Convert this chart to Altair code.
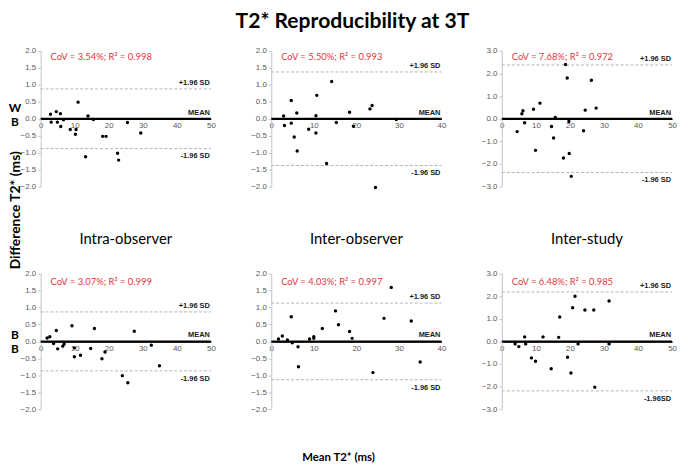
import altair as alt
import pandas as pd

W, H = 172, 137

# ---- tick labels ----
x_ticks_50 = [0, 10, 20, 30, 40, 50]
x_ticks_40 = [0, 10, 20, 30, 40]
y_ticks_2 = [-2.0, -1.5, -1.0, -0.5, 0.0, 0.5, 1.0, 1.5, 2.0]
y_ticks_3 = [-3.0, -2.0, -1.0, 0.0, 1.0, 2.0, 3.0]

# ---- panel titles / labels ----
column_titles = ["Intra-observer", "Inter-observer", "Inter-study"]
row_labels_top = ["W", "B"]
row_labels_bottom = ["B", "B"]
cov_labels = [
    "CoV = 3.54%; R\u00b2 = 0.998",
    "CoV = 5.50%; R\u00b2 = 0.993",
    "CoV = 7.68%; R\u00b2 = 0.972",
    "CoV = 3.07%; R\u00b2 = 0.999",
    "CoV = 4.03%; R\u00b2 = 0.997",
    "CoV = 6.48%; R\u00b2 = 0.985",
]
sd_limits = [0.88, 1.38, 2.38, 0.87, 1.13, 2.19]
mean_diffs = [0.0, 0.0, 0.0, 0.0, 0.0, 0.0]
upper_labels = ["+1.96 SD"] * 6
lower_labels = ["-1.96 SD", "-1.96 SD", "-1.96 SD", "-1.96 SD", "-1.96 SD", "-1.96SD"]

# ---- data: mean T2* (x) and difference T2* (y) ----
intra_wb_mean = [2.9, 3.1, 4.6, 4.9, 5.8, 5.9, 6.7, 8.7, 10.4, 10.2, 11.0, 13.9, 15.5, 13.2, 18.2, 19.2, 22.6, 22.9, 25.5, 29.4]
intra_wb_diff = [0.13, -0.10, 0.21, -0.10, 0.15, -0.23, -0.03, -0.32, -0.32, -0.46, 0.49, 0.08, -0.02, -1.12, -0.52, -0.52, -1.02, -1.22, -0.11, -0.42]

inter_wb_mean = [2.9, 3.1, 4.7, 4.7, 5.4, 6.0, 6.1, 8.8, 10.5, 10.7, 10.5, 13.0, 14.2, 15.3, 18.4, 19.3, 23.2, 23.7, 24.5, 29.4]
inter_wb_diff = [0.08, -0.20, 0.54, -0.13, -0.54, 0.17, -0.95, -0.31, 0.09, 0.69, -0.42, -1.32, 1.10, -0.11, 0.19, -0.22, 0.29, 0.39, -2.03, -0.02]

study_wb_mean = [4.5, 5.9, 6.2, 6.7, 9.3, 9.9, 11.2, 14.6, 15.2, 15.7, 18.1, 18.7, 19.2, 19.7, 19.8, 20.4, 24.0, 24.5, 26.3, 27.7]
study_wb_diff = [-0.57, 0.22, 0.35, -0.18, 0.42, -1.40, 0.69, -0.34, -0.85, 0.06, -1.74, 2.40, 1.80, -0.12, -1.54, -2.55, -0.53, 0.38, 1.70, 0.47]

intra_bb_mean = [1.9, 2.7, 3.8, 4.6, 5.0, 6.5, 6.9, 9.2, 9.9, 9.9, 11.7, 14.7, 15.8, 18.0, 18.9, 24.0, 25.6, 27.5, 32.5, 34.9]
intra_bb_diff = [0.10, 0.14, -0.06, 0.32, -0.22, -0.14, -0.08, 0.46, -0.19, -0.45, -0.41, -0.21, 0.38, -0.51, -0.31, -1.01, -1.22, 0.30, -0.11, -0.72]

inter_bb_mean = [1.7, 2.6, 3.8, 4.7, 4.95, 6.3, 6.4, 9.0, 10.0, 10.0, 12.0, 15.1, 15.8, 18.4, 19.0, 23.9, 26.5, 28.2, 32.9, 35.0]
inter_bb_diff = [0.07, 0.16, 0.04, 0.73, -0.04, -0.16, -0.75, 0.07, 0.14, 0.09, 0.38, 0.90, 0.49, 0.29, 0.09, -0.92, 0.68, 1.59, 0.60, -0.61]

study_bb_mean = [3.9, 5.0, 6.7, 7.0, 8.7, 9.9, 12.1, 14.5, 16.7, 17.0, 19.3, 20.3, 20.8, 21.5, 22.4, 24.4, 27.0, 27.3, 31.5, 31.5]
study_bb_diff = [-0.11, -0.23, 0.20, -0.11, -0.73, -0.88, 0.20, -1.21, 0.18, 1.08, -0.70, -1.40, 1.49, 2.00, -0.11, 1.39, 1.39, -2.03, 1.79, -0.11]

RED = "#e3363c"
LABEL_FONT = "Liberation Sans"
TEXT_FONT = "Lato"


def panel(i, means, diffs, xticks, yticks, cov_y, extras):
    xmax = xticks[-1]
    ymax = yticks[-1]
    xs = alt.Scale(domain=[0, xmax], nice=False, zero=False)
    ys = alt.Scale(domain=[-ymax, ymax], nice=False, zero=False)
    x_axis = alt.Axis(values=xticks, offset=-H / 2, grid=False, ticks=False,
                      domainColor="black", domainWidth=1.5, labelPadding=3, format="d")
    y_axis = alt.Axis(values=yticks, format=".1f", grid=False,
                      domainColor="#c4c4c4", tickColor="#c4c4c4", tickSize=3, labelPadding=2)
    X = alt.X("x:Q", scale=xs, axis=x_axis, title=None)
    Y = alt.Y("y:Q", scale=ys, axis=y_axis, title=None)

    pts = pd.DataFrame({"x": means, "y": diffs})
    points = alt.Chart(pts).mark_circle(size=12, color="black", opacity=1).encode(x=X, y=Y)

    sd = sd_limits[i]
    sd_df = pd.DataFrame({"y": [sd, -sd], "x": [0, 0], "x1": [xmax, xmax]})
    sd_rules = alt.Chart(sd_df).mark_rule(color="#b5b5b5", strokeDash=[3, 2], strokeWidth=1).encode(
        x=X, x2="x1:Q", y=Y)
    mean_df = pd.DataFrame({"y": [mean_diffs[i]], "x": [0], "x1": [xmax]})
    mean_rule = alt.Chart(mean_df).mark_rule(color="black", strokeWidth=2).encode(
        x=X, x2="x1:Q", y=Y)

    above_df = pd.DataFrame({"x": [xmax, xmax], "y": [sd, mean_diffs[i]], "t": [upper_labels[i], "MEAN"]})
    above = alt.Chart(above_df).mark_text(align="right", baseline="bottom", dy=-2, dx=-1,
                                          font=LABEL_FONT, fontSize=7.5, fontWeight="bold",
                                          color="#1a1a1a").encode(x=X, y=Y, text="t:N")
    below_df = pd.DataFrame({"x": [xmax], "y": [-sd], "t": [lower_labels[i]]})
    below = alt.Chart(below_df).mark_text(align="right", baseline="top", dy=4, dx=-1,
                                          font=LABEL_FONT, fontSize=7.5, fontWeight="bold",
                                          color="#1a1a1a").encode(x=X, y=Y, text="t:N")

    cov_df = pd.DataFrame({"t": [cov_labels[i]]})
    cov = alt.Chart(cov_df).mark_text(align="left", baseline="middle", font=TEXT_FONT,
                                      fontSize=9.5, color=RED).encode(
        x=alt.value(10), y=alt.value(cov_y), text="t:N")

    layers = [sd_rules, mean_rule, points, above, below, cov]
    for (txt, px, py, size, weight, angle) in extras:
        edf = pd.DataFrame({"t": [txt]})
        kw = dict(align="center", baseline="middle", font=TEXT_FONT, fontSize=size,
                  fontWeight=weight, color="black")
        if angle:
            kw["angle"] = angle
        layers.append(alt.Chart(edf).mark_text(**kw).encode(
            x=alt.value(px), y=alt.value(py), text="t:N"))
    return alt.layer(*layers).properties(width=W, height=H)


p1 = panel(0, intra_wb_mean, intra_wb_diff, x_ticks_50, y_ticks_2, 6, [
    (row_labels_top[0], -26, 58, 12, "bold", 0),
    (row_labels_top[1], -26, 72, 12, "bold", 0),
    ("Difference  T2* (ms)", -25, 161, 14, "bold", 270),
    (column_titles[0], W / 2, 190, 15, "normal", 0),
])
p2 = panel(1, inter_wb_mean, inter_wb_diff, x_ticks_40, y_ticks_2, 6, [
    (column_titles[1], W / 2, 190, 15, "normal", 0),
])
p3 = panel(2, study_wb_mean, study_wb_diff, x_ticks_50, y_ticks_3, 6, [
    (column_titles[2], W / 2, 190, 15, "normal", 0),
])
p4 = panel(3, intra_bb_mean, intra_bb_diff, x_ticks_50, y_ticks_2, 9, [
    (row_labels_bottom[0], -26, 62, 12, "bold", 0),
    (row_labels_bottom[1], -26, 76, 12, "bold", 0),
])
p5 = panel(4, inter_bb_mean, inter_bb_diff, x_ticks_40, y_ticks_2, 9, [
    ("Mean T2* (ms)", 68, 186, 11.5, "bold", 0),
])
p6 = panel(5, study_bb_mean, study_bb_diff, x_ticks_50, y_ticks_3, 9, [])

chart = alt.concat(
    p1, p2, p3, p4, p5, p6,
    columns=3,
    spacing={"row": 88, "column": 61},
    bounds="flush",
    title=alt.TitleParams("T2* Reproducibility at 3T", anchor="middle", font=TEXT_FONT,
                          fontSize=21.3, fontWeight="bold", color="black", offset=15, dx=10),
).properties(padding=0).configure(background="white").configure_view(
    stroke=None
).configure_axis(
    labelColor="#595959", labelFontSize=8, labelFont=LABEL_FONT,
    labelOverlap=False, labelBound=False, labelFlush=False, title=None
)

chart.save("out.html", embed_options={"renderer": "svg", "actions": False})
